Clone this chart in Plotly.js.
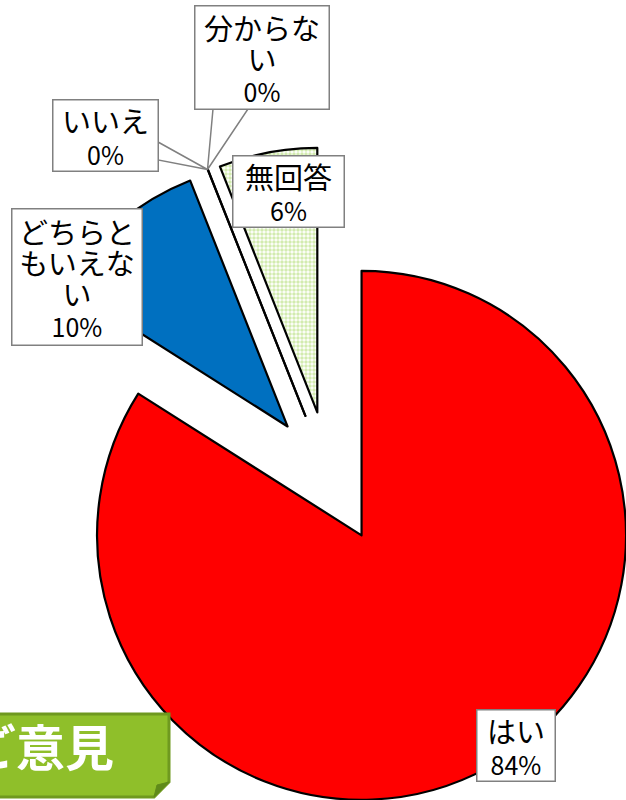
<!DOCTYPE html>
<html>
<head>
<meta charset="utf-8">
<script src="https://cdn.plot.ly/plotly-3.0.1.min.js"></script>
<style>
  html, body { margin: 0; padding: 0; width: 626px; height: 800px; overflow: hidden; background: #fff; }
  #chart { position: absolute; left: -40px; top: 0; width: 720px; height: 900px; }
</style>
</head>
<body>
<div id="chart"></div>
<script>
// ---- data ----
var labels = ['はい', 'どちらともいえない', 'いいえ', '分からない', '無回答'];
var values = [84, 10, 0, 0, 6];
var colors = ['#FF0000', '#0070C0', '#FFFFFF', '#FFFFFF', '#FFFFFF'];
var patternShapes = ['', '', '', '', '.'];
var badgeText = 'ご意見';

// ---- geometry helpers (figure is 720x900, offset -40px left) ----
var W = 720, H = 900, OX = 40;
function px(X) { return (X + OX) / W; }
function py(Y) { return 1 - Y / H; }

var total = values.reduce(function (a, b) { return a + b; }, 0);
function pct(v) { return '<span style="font-size:25px">' + Math.round(v / total * 100) + '%</span>'; }
function big(s) { return '<span style="font-size:29px">' + s + '</span>'; }
function wrap(s, n) {
  if (!n) return big(s);
  var out = [];
  for (var i = 0; i < s.length; i += n) out.push(big(s.slice(i, i + n)));
  return out.join('<br>');
}

// label box layout: [left, top, right, bottom, wrapLen]
var boxes = [
  [476, 709, 556, 782, 0],
  [11, 208, 143, 346, 4],
  [52, 99, 159, 172, 0],
  [194, 5, 330, 110, 4],
  [232, 155, 345, 228, 0]
];

var annotations = boxes.map(function (b, i) {
  return {
    xref: 'paper', yref: 'paper',
    x: px((b[0] + b[2]) / 2), y: py((b[1] + b[3]) / 2),
    xanchor: 'center', yanchor: 'middle',
    width: b[2] - b[0] - 3, height: b[3] - b[1] - 3,
    text: wrap(labels[i], b[4]) + '<br>' + pct(values[i]),
    showarrow: false,
    bgcolor: '#FFFFFF', bordercolor: '#808080', borderwidth: 1.5, borderpad: 0,
    font: { family: 'Noto Sans CJK JP, sans-serif', size: 24, color: '#000' }
  };
});

annotations.push({
  xref: 'paper', yref: 'paper',
  x: px(40), y: py(744), xanchor: 'center', yanchor: 'middle',
  text: '<b>' + badgeText + '</b>', showarrow: false,
  font: { family: 'Noto Sans CJK JP, sans-serif', size: 49, color: '#FFFFFF' }
});

function pathOf(pts) {
  return 'M ' + pts.map(function (p) { return px(p[0]) + ',' + py(p[1]); }).join(' L ') + ' Z';
}

var tip = [207.5, 169.5];
var shapes = [
  // wedge pointers for the 0% callouts
  { type: 'path', xref: 'paper', yref: 'paper', layer: 'above',
    path: pathOf([[213, 109], tip, [248, 109]]),
    fillcolor: '#FFFFFF', line: { color: '#808080', width: 1.5 } },
  { type: 'path', xref: 'paper', yref: 'paper', layer: 'above',
    path: pathOf([[158, 142], tip, [158, 160]]),
    fillcolor: '#FFFFFF', line: { color: '#808080', width: 1.5 } },
  // green badge
  { type: 'path', xref: 'paper', yref: 'paper', layer: 'above',
    path: pathOf([[-20, 714], [169, 714], [169, 782], [154, 797], [-20, 797]]),
    fillcolor: '#8FBF2A', line: { color: '#6F991F', width: 3 } },
  { type: 'path', xref: 'paper', yref: 'paper', layer: 'above',
    path: pathOf([[169, 782], [154, 797], [157, 785]]),
    fillcolor: '#5F8A1A', line: { color: '#5F8A1A', width: 1 } }
];

var trace = {
  type: 'pie',
  labels: labels,
  values: values,
  sort: false,
  direction: 'clockwise',
  rotation: 0,
  pull: 0.25,
  textinfo: 'none',
  hoverinfo: 'none',
  showlegend: false,
  domain: { x: [px(329.7) - 330.6 / W, px(329.7) + 330.6 / W], y: [1 - 808.0 / H, 1 - 146.8 / H] },
  marker: {
    colors: colors,
    line: { color: '#000000', width: 2.2 },
    pattern: { shape: patternShapes, fgcolor: '#A6D860', bgcolor: '#FFFFFF', size: 4, solidity: 0.6, fillmode: 'overlay' }
  }
};

var layout = {
  width: W, height: H,
  margin: { l: 0, r: 0, t: 0, b: 0 },
  paper_bgcolor: '#FFFFFF',
  showlegend: false,
  shapes: shapes,
  annotations: annotations
};

Plotly.newPlot('chart', [trace], layout, { staticPlot: true, displayModeBar: false });
</script>
</body>
</html>
